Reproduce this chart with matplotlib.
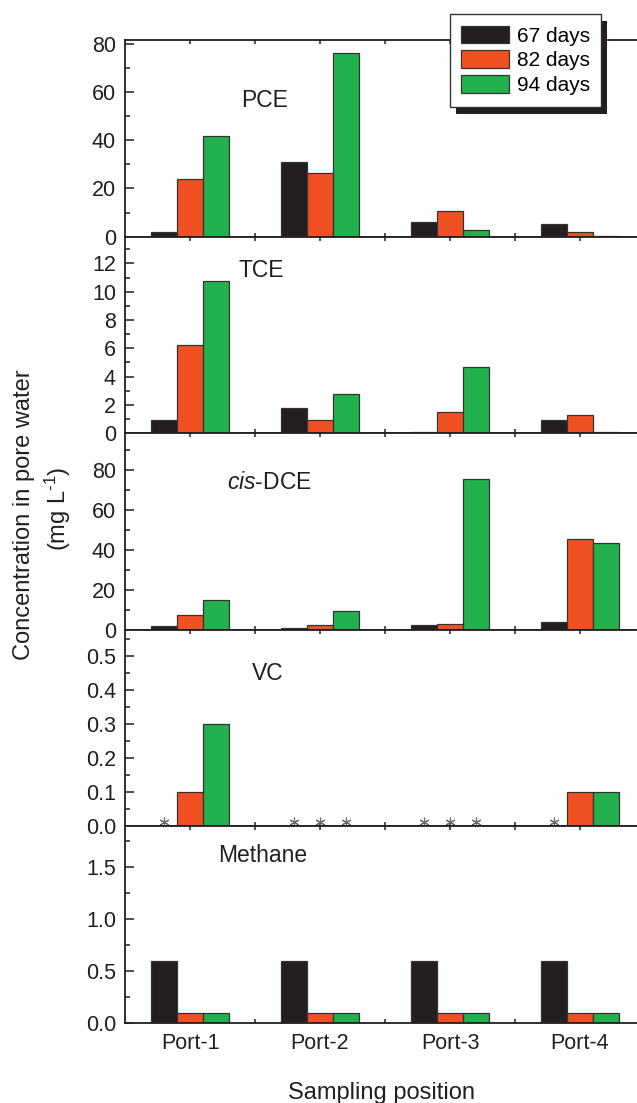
import matplotlib
matplotlib.use("Agg")
import matplotlib.pyplot as plt
import numpy as np
from matplotlib.ticker import MultipleLocator, FormatStrFormatter, FixedLocator
from matplotlib.patches import Rectangle
from matplotlib.transforms import blended_transform_factory

plt.rcParams["font.family"] = ["Liberation Sans", "DejaVu Sans"]
plt.rcParams["mathtext.fontset"] = "custom"
plt.rcParams["mathtext.rm"] = "Liberation Sans"
plt.rcParams["mathtext.it"] = "Liberation Sans:italic"

# data
ports = ["Port-1", "Port-2", "Port-3", "Port-4"]
days = ["67 days", "82 days", "94 days"]

pce = [[2.1, 30.9, 6.0, 5.4],
       [23.9, 26.5, 10.6, 2.1],
       [41.8, 76.1, 2.9, 0.2]]
tce = [[0.9, 1.8, 0.1, 0.9],
       [6.26, 0.96, 1.48, 1.29],
       [10.75, 2.78, 4.66, 0.1]]
dce = [[1.7, 1.0, 2.2, 3.7],
       [7.5, 2.2, 3.0, 45.5],
       [14.8, 9.3, 75.3, 43.2]]
vc = [[0.0, 0.0, 0.0, 0.0],
      [0.1, 0.0, 0.0, 0.1],
      [0.3, 0.0, 0.0, 0.1]]
# not detected (asterisk) flags for VC
vc_nd = [[True, True, True, True],
         [False, True, True, False],
         [False, True, True, False]]
methane = [[0.6, 0.6, 0.6, 0.6],
           [0.1, 0.1, 0.1, 0.1],
           [0.1, 0.1, 0.1, 0.1]]

panels = [
    # name, data, ylim top, major, minor, fmt, label pos
    ("PCE", pce, 81.7, 20, 10, "%d", (0.273, 0.69)),
    ("TCE", tce, 13.9, 2, 1, "%d", (0.266, 0.827)),
    ("$\\it{cis}$-DCE", dce, 98.3, 20, 10, "%d", (0.283, 0.75)),
    ("VC", vc, 0.578, 0.1, 0.05, "%.1f", (0.279, 0.777)),
    ("Methane", methane, 1.89, 0.5, 0.25, "%.1f", (0.268, 0.853)),
]

colors = ["#231f20", "#f15022", "#22b14c"]
ink = "#231f20"

fig = plt.figure(figsize=(6.37, 11.03), dpi=100)
axes = fig.subplots(5, 1, sharex=True, gridspec_kw=dict(hspace=0))
fig.subplots_adjust(left=125 / 637, right=1.0, top=1 - 40 / 1103, bottom=1 - 1023 / 1103)

x = np.arange(1, len(ports) + 1)
width = 0.2
offsets = [-0.2, 0.0, 0.2]

for ax, (name, data, ytop, major, minor, fmt, lpos) in zip(axes, panels):
    for i in range(3):
        ax.bar(x + offsets[i], data[i], width=width, color=colors[i],
               edgecolor="#333333", linewidth=0.9, label=days[i], zorder=2)
    ax.set_ylim(0, ytop)
    ax.set_xlim(0.5, 4.438)
    ax.yaxis.set_major_locator(MultipleLocator(major))
    ax.yaxis.set_minor_locator(MultipleLocator(minor))
    ax.yaxis.set_major_formatter(FormatStrFormatter(fmt))
    ax.xaxis.set_major_locator(FixedLocator(x))
    ax.xaxis.set_minor_locator(FixedLocator([1.5, 2.5, 3.5]))
    ax.tick_params(axis="y", which="major", direction="in", length=6.3, width=1.1,
                   labelsize=15.5, pad=6.5, colors=ink)
    ax.tick_params(axis="y", which="minor", direction="in", length=3.4, width=1.1, colors=ink)
    ax.tick_params(axis="x", which="both", direction="in", length=3, width=1.1,
                   top=True, bottom=True, labelsize=15.5, pad=7, colors=ink)
    for s in ["left", "top", "bottom"]:
        ax.spines[s].set_linewidth(1.3)
        ax.spines[s].set_color(ink)
    ax.spines["right"].set_visible(False)
    ax.text(lpos[0], lpos[1], name, transform=ax.transAxes, ha="center", va="center",
            fontsize=16.5, color=ink)

# asterisks for not detected VC
ax_vc = axes[3]
trans = blended_transform_factory(ax_vc.transData, ax_vc.transAxes)
for i in range(3):
    for j in range(len(ports)):
        if vc_nd[i][j]:
            ax_vc.plot(x[j] + offsets[i], 0.024, marker=(6, 2, 0), markersize=7,
                       color="#666666", mew=0.8, transform=trans, clip_on=False, zorder=3)

axes[-1].set_xticklabels(ports)

fig.text(24 / 637, 1 - 515 / 1103, "Concentration in pore water", rotation=90,
         ha="center", va="center", fontsize=17, color=ink)
fig.text(58 / 637, 1 - 509 / 1103, "(mg L$^{\u2010 1}$)", rotation=90,
         ha="center", va="center", fontsize=17, color=ink)
fig.text(381 / 637, 1 - 1093 / 1103, "Sampling position", ha="center", va="center",
         fontsize=17, color=ink)

# legend with hard shadow
ax0 = axes[0]
leg = ax0.legend(loc="upper right", bbox_to_anchor=(0.93, 1.132), fancybox=False,
                 edgecolor="#333333", framealpha=1, fontsize=15, handlelength=2.3,
                 handleheight=0.95, handletextpad=0.35, labelspacing=0.22, borderpad=0.55,
                 borderaxespad=0)
leg.get_frame().set_linewidth(1.0)
leg.set_zorder(6)

fig.canvas.draw()
bb = leg.get_window_extent()
inv = ax0.transAxes.inverted()
(sx0, sy0), (sx1, sy1) = inv.transform([[bb.x0 + 6, bb.y0 - 7], [bb.x1 + 6, bb.y1 - 7]])
ax0.add_patch(Rectangle((sx0, sy0), sx1 - sx0, sy1 - sy0, transform=ax0.transAxes,
                        facecolor=ink, edgecolor="none", clip_on=False, zorder=5))

fig.savefig("out.png", dpi=100)
